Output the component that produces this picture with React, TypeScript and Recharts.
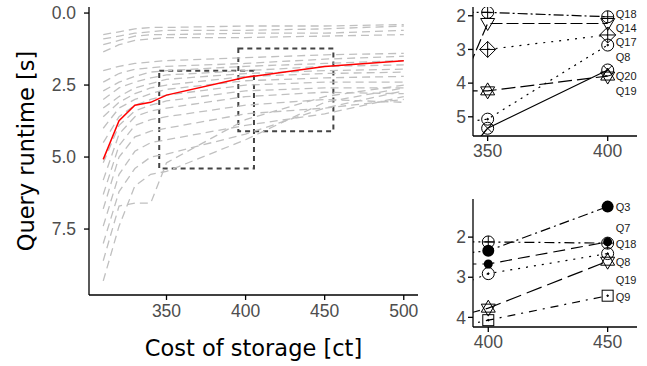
import React from 'react';
import { LineChart, Line, XAxis, YAxis, ReferenceArea, LabelList, Label } from 'recharts';

// main panel: runtime of each query against storage cost
const cost = [310, 320, 330, 340, 350, 400, 450, 500];
const meanRuntime = [5.08, 3.74, 3.2, 3.1, 2.85, 2.23, 1.86, 1.66];

const greyA1 = [0.75, 0.65, 0.55, 0.5, 0.5, 0.45, 0.45, 0.4];
const greyA2 = [0.9, 0.8, 0.7, 0.65, 0.6, 0.6, 0.55, 0.45];
const greyA3 = [1.1, 0.95, 0.8, 0.75, 0.75, 0.7, 0.7, 0.6];
const greyA4 = [1.35, 1.1, 0.95, 0.9, 0.85, 0.85, 0.8, 0.75];
const greyB1 = [2.0, 1.85, 1.75, 1.7, 1.65, 1.55, 1.45, 1.4];
const greyB2 = [2.4, 2.1, 1.95, 1.9, 1.85, 1.75, 1.6, 1.5];
const greyB3 = [2.7, 2.4, 2.2, 2.05, 2.0, 1.85, 1.75, 1.65];
const greyB4 = [3.0, 2.6, 2.4, 2.25, 2.15, 2.0, 1.85, 1.8];
const greyB5 = [3.3, 2.9, 2.6, 2.45, 2.3, 2.1, 2.0, 1.95];
const greyB6 = [3.6, 3.1, 2.8, 2.6, 2.5, 2.2, 2.1, 2.05];
const greyB7 = [4.0, 3.3, 3.0, 2.8, 2.65, 2.35, 2.25, 2.2];
const greyB8 = [4.5, 3.6, 3.2, 3.0, 2.85, 2.5, 2.4, 2.4];
const greyB9 = [5.2, 3.9, 3.4, 3.2, 3.05, 2.7, 2.6, 2.6];
const greyB10 = [5.8, 4.2, 3.6, 3.4, 3.3, 2.9, 2.75, 2.8];
const greyC1 = [6.3, 4.6, 3.9, 3.7, 3.6, 3.2, 3.0, 3.1];
const greyC2 = [6.8, 5.0, 4.3, 4.1, 4.0, 3.5, 3.3, 3.0];
const greyC3 = [7.4, 5.6, 4.8, 4.5, 4.4, 3.9, 3.5, 2.9];
const greyC4 = [8.0, 6.2, 5.4, 5.0, 4.9, 4.2, 3.3, 2.7];
const greyC5 = [8.6, 6.7, 6.6, 6.6, 5.2, 3.7, 2.9, 2.5];
const greyC6 = [9.3, 7.4, 6.0, 5.6, 5.5, 4.4, 3.1, 2.6];

const greyLines = [
  greyA1, greyA2, greyA3, greyA4, greyB1, greyB2, greyB3, greyB4, greyB5, greyB6,
  greyB7, greyB8, greyB9, greyB10, greyC1, greyC2, greyC3, greyC4, greyC5, greyC6,
];

// zoom boxes drawn on the main panel [x1, x2, y1, y2]
const zoomBoxA = [345.4, 405.3, 2.0, 5.4];
const zoomBoxB = [395.4, 455.5, 1.23, 4.1];

// top inset (350 -> 400), first column is off-panel lead-in
const insetACost = [340, 350, 400];
const insetAQ18 = [1.9, 1.9, 2.03];
const insetAQ14 = [3.9, 2.23, 2.23];
const insetAQ17 = [null, 3.0, 2.57];
const insetAQ8 = [5.15, 5.07, 2.87];
const insetAQ20 = [4.23, 4.23, 3.79];
const insetAQ19 = [6.2, 5.34, 3.61];

// bottom inset (400 -> 450)
const insetBCost = [390, 400, 450];
const insetBQ3 = [2.4, 2.34, 1.24];
const insetBQ7 = [2.67, 2.67, 2.12];
const insetBQ18 = [2.12, 2.12, 2.15];
const insetBQ8 = [3.15, 2.91, 2.41];
const insetBQ19 = [3.93, 3.77, 2.6];
const insetBQ9 = [4.2, 4.07, 3.46];

const mainRows = cost.map((c, i) => {
  const row: any = { cost: c, mean: meanRuntime[i] };
  greyLines.forEach((s, j) => (row['g' + j] = s[i]));
  return row;
});

const insetARows = insetACost.map((c, i) => ({
  cost: c, Q18: insetAQ18[i], Q14: insetAQ14[i], Q17: insetAQ17[i],
  Q8: insetAQ8[i], Q20: insetAQ20[i], Q19: insetAQ19[i],
}));

const insetBRows = insetBCost.map((c, i) => ({
  cost: c, Q3: insetBQ3[i], Q7: insetBQ7[i], Q18: insetBQ18[i],
  Q8: insetBQ8[i], Q19: insetBQ19[i], Q9: insetBQ9[i],
}));

const insetAStyle = [
  { key: 'Q18', dash: '10 3 2 3', marker: 'oplus', dy: -3 },
  { key: 'Q14', dash: '12 4', marker: 'tridown', dy: 4 },
  { key: 'Q17', dash: '2 6', marker: 'diamondplus', dy: 7 },
  { key: 'Q8', dash: '2 5', marker: 'odot', dy: 12 },
  { key: 'Q20', dash: '14 5', marker: 'hexagram', dy: 0 },
  { key: 'Q19', dash: undefined, marker: 'otimes', dy: 21 },
];

const insetBStyle = [
  { key: 'Q3', dash: '10 4 2 4', marker: 'filled', dy: 0 },
  { key: 'Q7', dash: '12 6', marker: 'filledsmall', dy: -14 },
  { key: 'Q18', dash: '10 4 2 4', marker: 'oplus', dy: 1 },
  { key: 'Q8', dash: '2 6', marker: 'odot', dy: 8 },
  { key: 'Q19', dash: '16 6', marker: 'hexagram', dy: 19 },
  { key: 'Q9', dash: '8 6 2 6', marker: 'sqdot', dy: 1 },
];

const tickFont = { fill: '#4d4d4d', fontSize: 17.5, fontFamily: 'Liberation Sans' };
const axisStroke = { stroke: '#000', strokeWidth: 1.3 };

function Marker({ cx, cy, kind }: { cx: number; cy: number; kind: string }) {
  const s = { stroke: '#000', strokeWidth: 1, fill: 'none' };
  const r = 6;
  const d = r * 0.707;
  switch (kind) {
    case 'oplus':
      return (
        <g {...s}>
          <circle cx={cx} cy={cy} r={r} />
          <line x1={cx - r} y1={cy} x2={cx + r} y2={cy} />
          <line x1={cx} y1={cy - r} x2={cx} y2={cy + r} />
        </g>
      );
    case 'otimes':
      return (
        <g {...s}>
          <circle cx={cx} cy={cy} r={r} />
          <line x1={cx - d} y1={cy - d} x2={cx + d} y2={cy + d} />
          <line x1={cx - d} y1={cy + d} x2={cx + d} y2={cy - d} />
        </g>
      );
    case 'odot':
      return (
        <g {...s}>
          <circle cx={cx} cy={cy} r={r} />
          <circle cx={cx} cy={cy} r={0.8} fill="#000" />
        </g>
      );
    case 'tridown':
      return <polygon {...s} points={`${cx - 7},${cy - 5} ${cx + 7},${cy - 5} ${cx},${cy + 7}`} />;
    case 'diamondplus':
      return (
        <g {...s}>
          <polygon points={`${cx},${cy - 8} ${cx + 8},${cy} ${cx},${cy + 8} ${cx - 8},${cy}`} />
          <line x1={cx - 8} y1={cy} x2={cx + 8} y2={cy} />
          <line x1={cx} y1={cy - 8} x2={cx} y2={cy + 8} />
        </g>
      );
    case 'hexagram':
      return (
        <g {...s}>
          <polygon points={`${cx},${cy - 8} ${cx + 7},${cy + 4} ${cx - 7},${cy + 4}`} />
          <polygon points={`${cx},${cy + 8} ${cx + 7},${cy - 4} ${cx - 7},${cy - 4}`} />
        </g>
      );
    case 'filled':
      return <circle cx={cx} cy={cy} r={6} fill="#000" />;
    case 'filledsmall':
      return <circle cx={cx} cy={cy} r={4.5} fill="#000" />;
    case 'sqdot':
      return (
        <g {...s}>
          <rect x={cx - 5.5} y={cy - 5.5} width={11} height={11} />
          <circle cx={cx} cy={cy} r={0.8} fill="#000" />
        </g>
      );
    default:
      return <circle {...s} cx={cx} cy={cy} r={r} />;
  }
}

const dotFor = (kind: string) => (p: any) =>
  p.index === 0 || p.value == null ? (
    <g key={`e-${p.index}`} />
  ) : (
    <Marker key={`m-${p.index}`} cx={p.cx} cy={p.cy} kind={kind} />
  );

const qLabel = (name: string, dy: number, last: number) => (p: any) =>
  p.index === last ? (
    <text x={p.x + 8} y={p.y + dy} dominantBaseline="central" fontSize={11}
      fontFamily="Liberation Sans" fill="#1a1a1a">
      {name}
    </text>
  ) : null;

function Inset({ rows, styles, xDomain, xTicks, yDomain, yTicks, top, height, marginTop }: any) {
  return (
    <div style={{ position: 'absolute', left: 440, top }}>
      <LineChart width={207} height={height} data={rows}
        margin={{ top: marginTop, right: 10, bottom: 0, left: 0 }}>
        <XAxis dataKey="cost" type="number" domain={xDomain} ticks={xTicks} allowDataOverflow
          axisLine={axisStroke} tickLine={axisStroke} tickSize={5} tickMargin={4}
          tick={tickFont} height={39} />
        <YAxis type="number" domain={yDomain} ticks={yTicks} reversed allowDataOverflow
          axisLine={axisStroke} tickLine={axisStroke} tickSize={5} tickMargin={2}
          tick={tickFont} width={33} />
        {styles.map((st: any) => (
          <Line key={st.key} dataKey={st.key} stroke="#000" strokeWidth={1.2}
            strokeDasharray={st.dash} dot={dotFor(st.marker)} activeDot={false}
            isAnimationActive={false}>
            <LabelList dataKey={st.key} content={qLabel(st.key, st.dy, rows.length - 1)} />
          </Line>
        ))}
      </LineChart>
    </div>
  );
}

export default function App() {
  return (
    <div style={{ position: 'absolute', left: 0, top: 0, width: 647, height: 366,
      background: '#fff', fontFamily: 'Liberation Sans' }}>
      <div style={{ position: 'absolute', left: 0, top: 0 }}>
        <LineChart width={440} height={366} data={mainRows}
          margin={{ top: 7, right: 22, bottom: 0, left: 0 }}>
          <XAxis dataKey="cost" type="number" domain={[301, 509]} ticks={[350, 400, 450, 500]}
            allowDataOverflow axisLine={axisStroke} tickLine={axisStroke} tickSize={5}
            tickMargin={5} tick={tickFont} height={71}>
            <Label content={({ viewBox }: any) => (
              <text x={viewBox.x + viewBox.width / 2} y={viewBox.y + viewBox.height - 10}
                textAnchor="middle" fontSize={22.5} fontFamily="DejaVu Sans" fill="#000">
                Cost of storage [ct]
              </text>
            )} />
          </XAxis>
          <YAxis type="number" domain={[-0.21, 9.79]} ticks={[0, 2.5, 5, 7.5]} reversed
            allowDataOverflow axisLine={axisStroke} tickLine={axisStroke} tickSize={5}
            tickMargin={8} tick={tickFont} tickFormatter={(v: number) => v.toFixed(1)} width={89}>
            <Label content={({ viewBox }: any) => {
              const cy = viewBox.y + viewBox.height / 2;
              return (
                <text x={33.5} y={cy} transform={`rotate(-90, 33.5, ${cy})`} textAnchor="middle"
                  fontSize={22.5} fontFamily="DejaVu Sans" fill="#000">
                  Query runtime [s]
                </text>
              );
            }} />
          </YAxis>
          {greyLines.map((_, j) => (
            <Line key={j} dataKey={'g' + j} stroke="#c0c0c0" strokeWidth={1.3}
              strokeDasharray="8 5" dot={false} activeDot={false} isAnimationActive={false} />
          ))}
          <Line dataKey="mean" stroke="#ff0000" strokeWidth={1.5} dot={false} activeDot={false}
            isAnimationActive={false} />
          {[zoomBoxA, zoomBoxB].map((b, i) => (
            <ReferenceArea key={i} x1={b[0]} x2={b[1]} y1={b[2]} y2={b[3]} fill="none"
              fillOpacity={0} stroke="#444" strokeWidth={2} strokeDasharray="5 4" />
          ))}
        </LineChart>
      </div>
      <Inset rows={insetARows} styles={insetAStyle} xDomain={[343.9, 412.2]} xTicks={[350, 400]}
        yDomain={[1.74, 5.57]} yTicks={[2, 3, 4, 5]} top={0} height={175} marginTop={7} />
      <Inset rows={insetBRows} styles={insetBStyle} xDomain={[393.6, 462.3]} xTicks={[400, 450]}
        yDomain={[1.05, 4.24]} yTicks={[2, 3, 4]} top={180} height={186} marginTop={19} />
    </div>
  );
}
